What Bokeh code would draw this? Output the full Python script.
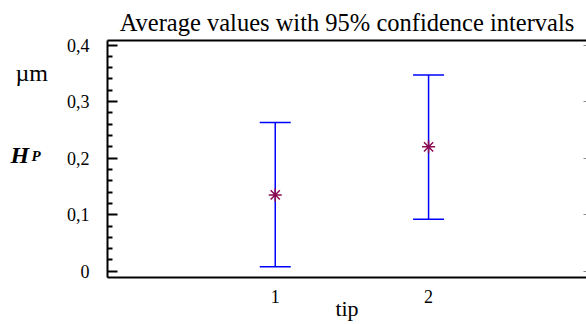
from bokeh.plotting import figure
from bokeh.layouts import row
from bokeh.models import (Range1d, LinearAxis, FixedTicker, Whisker, TeeHead,
                          ColumnDataSource, CustomJSTickFormatter)
from bokeh.core.properties import value
from bokeh.embed import file_html
from bokeh.resources import INLINE

# ---- data ----
tips = [1, 2]
tip_labels = ["1", "2"]
means = [0.135, 0.220]
lower = [0.008, 0.092]
upper = [0.263, 0.347]
y_ticks = [0, 0.1, 0.2, 0.3, 0.4]
y_tick_labels = ["0", "0,1", "0,2", "0,3", "0,4"]
y_minor_ticks = [0.02, 0.04, 0.06, 0.08, 0.12, 0.14, 0.16, 0.18,
                 0.22, 0.24, 0.26, 0.28, 0.32, 0.34, 0.36, 0.38]
title_text = "Average values with 95% confidence intervals"
x_title = "tip"
unit_text = "µm"
var_main = "H"
var_sub = "P"

FONT = "Liberation Serif"
LEFT_W = 60

src = ColumnDataSource(dict(x=tips, mean=means, lower=lower, upper=upper))
y_range = Range1d(-0.011, 0.408)

# ---- narrow left panel holding the y-axis quantity / unit texts ----
# it shares the main y range (frames are aligned in a row)
lp = figure(width=LEFT_W, height=324, x_range=Range1d(0, LEFT_W),
            y_range=y_range, x_axis_type=None, y_axis_type=None,
            output_backend="svg", toolbar_location=None,
            min_border_left=0, min_border_right=0, min_border_top=0,
            min_border_bottom=0)
lp.outline_line_color = None
lp.background_fill_color = "white"
lp.border_fill_color = "white"
lp.text(x=[15], y=[0.350], text=[unit_text], text_font=value(FONT),
        text_font_size="24px", text_color="black",
        text_baseline="middle", text_align="left")
lp.text(x=[10], y=[0.2064], text=[var_main], text_font=value(FONT),
        text_font_size="24px", text_font_style="bold italic", text_color="black",
        text_baseline="middle", text_align="left")
lp.text(x=[31], y=[0.203], text=[var_sub], text_font=value(FONT),
        text_font_size="15px", text_font_style="bold italic", text_color="black",
        text_baseline="middle", text_align="left")

# ---- main plot ----
p = figure(width=586 - LEFT_W, height=324, x_range=Range1d(-0.094, 3.03),
           y_range=y_range, x_axis_type=None, y_axis_type=None,
           output_backend="svg", toolbar_location=None,
           min_border_left=107 - LEFT_W, min_border_right=0, min_border_top=40,
           min_border_bottom=47)
p.outline_line_color = None
p.background_fill_color = "white"
p.border_fill_color = "white"

p.title.text = title_text
p.title.text_font = FONT
p.title.text_font_size = "24.5px"
p.title.text_font_style = "normal"
p.title.align = "center"
p.title.offset = 5
p.title.text_color = "black"

yax = LinearAxis(ticker=FixedTicker(ticks=y_ticks, minor_ticks=y_minor_ticks),
                 major_label_overrides=dict(zip(y_ticks, y_tick_labels)),
                 axis_line_width=2, axis_line_color="black",
                 major_tick_in=10, major_tick_out=0, major_tick_line_width=2,
                 minor_tick_in=5, minor_tick_out=0, minor_tick_line_width=2,
                 major_label_standoff=18, major_label_text_font=FONT,
                 major_label_text_font_size="18px", major_label_text_color="black")
p.add_layout(yax, "left")

xax = LinearAxis(ticker=FixedTicker(ticks=tips),
                 major_label_overrides=dict(zip(tips, tip_labels)),
                 axis_line_width=2, axis_line_color="black",
                 major_tick_in=0, major_tick_out=0, minor_tick_in=0, minor_tick_out=0,
                 major_label_standoff=12, major_label_text_font=FONT,
                 major_label_text_font_size="18px", major_label_text_color="black",
                 axis_label=x_title, axis_label_text_font=FONT,
                 axis_label_text_font_size="22px", axis_label_text_font_style="normal",
                 axis_label_text_color="black", axis_label_standoff=-10)
p.add_layout(xax, "below")

rax = LinearAxis(ticker=FixedTicker(ticks=y_ticks),
                 formatter=CustomJSTickFormatter(code="return ''"),
                 axis_line_color=None, major_tick_in=3, major_tick_out=0,
                 major_tick_line_color="#888888", major_tick_line_width=1,
                 minor_tick_in=0, minor_tick_out=0, major_label_standoff=0)
p.add_layout(rax, "right")

tax = LinearAxis(ticker=FixedTicker(ticks=[]),
                 formatter=CustomJSTickFormatter(code="return ''"),
                 axis_line_width=2, axis_line_color="black",
                 major_tick_in=0, major_tick_out=0, minor_tick_in=0, minor_tick_out=0,
                 major_label_standoff=0)
p.add_layout(tax, "above")

whisk = Whisker(source=src, base="x", upper="upper", lower="lower",
                line_color="blue", line_width=1.5,
                upper_head=TeeHead(size=31, line_color="blue", line_width=1.5),
                lower_head=TeeHead(size=31, line_color="blue", line_width=1.5))
p.add_layout(whisk)

p.scatter("x", "mean", source=src, marker="asterisk", size=13,
          line_color="#8B0A50", line_width=1.5)

layout = row(lp, p, spacing=0)
open("out.html", "w").write(file_html(layout, INLINE))
